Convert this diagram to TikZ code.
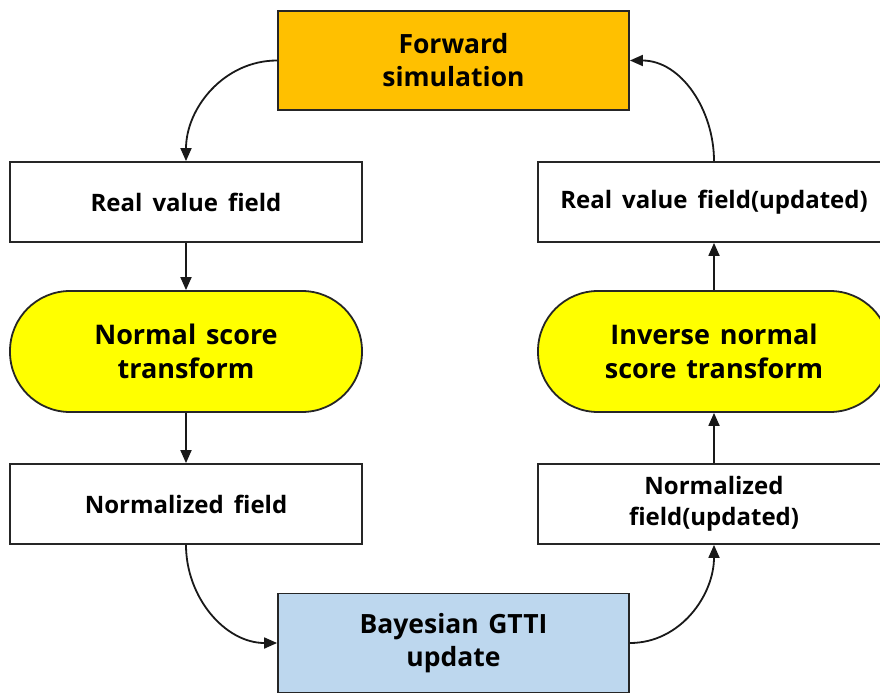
\documentclass[tikz,border=0pt]{standalone}
\usepackage{fontspec}
\setmainfont{Open Sans}
\usetikzlibrary{arrows.meta}
\definecolor{simorange}{HTML}{FFC000}
\definecolor{nsyellow}{HTML}{FFFF00}
\definecolor{gttiblue}{HTML}{BDD7EE}
% bold label fonts with slightly wider word spaces
\newcommand{\labelfont}[3]{\bfseries\fontsize{#1}{#2}\selectfont\spaceskip=#3em plus 0.1em\relax}
\tikzset{
  every node/.style={align=center, inner sep=0pt, text=black},
  procbox/.style={draw=black!85, line width=1.8pt, minimum width=351pt, minimum height=99pt,
    font=\labelfont{26.5}{33}{0.36}},
  fieldbox/.style={draw=black!85, line width=1.8pt, fill=white, minimum width=352pt, minimum height=80pt,
    font=\labelfont{24}{31}{0.42}},
  stadium/.style={draw=black!85, line width=1.8pt, fill=nsyellow, minimum width=352pt, minimum height=121pt,
    rounded corners=60pt, font=\labelfont{27}{34}{0.36}},
  flow/.style={line width=1.8pt, draw=black!90, -{Triangle[length=13pt,width=11pt]}}
}
\begin{document}
\begin{tikzpicture}[x=1pt,y=-1pt]
  \useasboundingbox (0,0) rectangle (880,693);
  \clip (0,0) rectangle (880,693);

  % top and bottom process boxes
  \node[procbox, fill=simorange] (fwd) at (453.5,60.5) {Forward\\simulation};
  \node[procbox, fill=gttiblue] (gtti) at (453.5,643) {Bayesian GTTI\\update};

  % left column: real space to normal space
  \node[fieldbox] (real) at (186,202) {Real value field};
  \node[stadium] (nst) at (186,351.5) {Normal score\\transform};
  \node[fieldbox] (norm) at (186,504) {Normalized field};

  % right column: back to real space
  \node[fieldbox] (normup) at (714,504) {Normalized\\field(updated)};
  \node[stadium] (inst) at (714,351.5) {Inverse normal\\score transform};
  \node[fieldbox] (realup) at (714,202) {Real value field(updated)};

  % connectors
  \draw[flow] (fwd.west) to[out=180,in=90] (real.north);
  \draw[flow] (real.south) -- (nst.north);
  \draw[flow] (nst.south) -- (norm.north);
  \draw[flow] (norm.south) to[out=-90,in=180] (gtti.west);
  \draw[flow] (gtti.east) to[out=0,in=-90] (normup.south);
  \draw[flow] (normup.north) -- (inst.south);
  \draw[flow] (inst.north) -- (realup.south);
  \draw[flow] (realup.north) to[out=90,in=0] (fwd.east);
\end{tikzpicture}
\end{document}
